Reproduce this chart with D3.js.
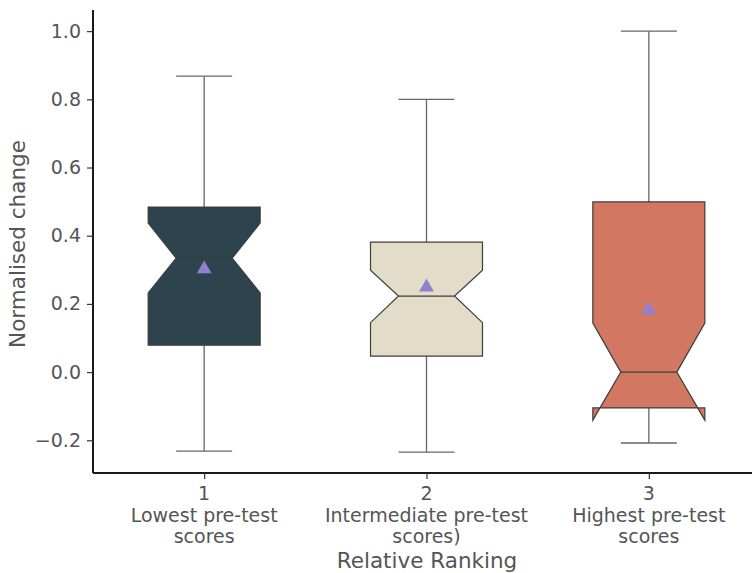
<!DOCTYPE html>
<html>
<head>
<meta charset="utf-8">
<script src="https://cdn.jsdelivr.net/npm/d3@7"></script>
<style>
  body { margin: 0; background: #fff; }
  text { font-family: "DejaVu Sans", sans-serif; }
</style>
</head>
<body>
<div id="chart"></div>
<script>
// data
var groups = [1, 2, 3];
var groupLabels = [["1", "Lowest pre-test", "scores"],
                   ["2", "Intermediate pre-test", "scores)"],
                   ["3", "Highest pre-test", "scores"]];
var q1 = [0.079, 0.047, -0.105];
var medians = [0.334, 0.223, 0.0];
var q3 = [0.484, 0.381, 0.499];
var notchLo = [0.232, 0.145, -0.141];
var notchHi = [0.437, 0.299, 0.144];
var whiskerLo = [-0.232, -0.235, -0.208];
var whiskerHi = [0.868, 0.80, 1.0];
var means = [0.305, 0.252, 0.185];
var yTicks = [-0.2, 0.0, 0.2, 0.4, 0.6, 0.8, 1.0];
var boxColors = ["#2d444e", "#e2dcc8", "#d27862"];

var width = 752, height = 573;
var svg = d3.select("#chart").append("svg")
    .attr("width", width).attr("height", height);

var x = d3.scaleLinear().domain([0.5, 3.5]).range([93, 760]);
var y = d3.scaleLinear().domain([-0.296, 1.062]).range([473, 10]);

var textColor = "#555555";
var edge = "#3d3d3d";
var boxHalf = 56;

// boxes
var boxes = groups.map(function(g, i) {
  return { g: g, q1: q1[i], med: medians[i], q3: q3[i], nlo: notchLo[i], nhi: notchHi[i],
           wlo: whiskerLo[i], whi: whiskerHi[i], mean: means[i], color: boxColors[i] };
});

var bg = svg.append("g");

// whiskers
boxes.forEach(function(d) {
  var cx = x(d.g);
  bg.append("line").attr("x1", cx).attr("x2", cx).attr("y1", y(d.q3)).attr("y2", y(d.whi))
    .style("stroke", "#666").style("stroke-width", 1.3);
  bg.append("line").attr("x1", cx).attr("x2", cx).attr("y1", y(d.q1)).attr("y2", y(d.wlo))
    .style("stroke", "#666").style("stroke-width", 1.3);
  [d.whi, d.wlo].forEach(function(v) {
    bg.append("line").attr("x1", cx - boxHalf / 2).attr("x2", cx + boxHalf / 2)
      .attr("y1", y(v)).attr("y2", y(v))
      .style("stroke", "#666").style("stroke-width", 1.3);
  });
});

// notched box polygons
boxes.forEach(function(d) {
  var cx = x(d.g);
  var pts = [
    [cx - boxHalf, y(d.q1)], [cx - boxHalf, y(d.nlo)], [cx - boxHalf / 2, y(d.med)],
    [cx - boxHalf, y(d.nhi)], [cx - boxHalf, y(d.q3)], [cx + boxHalf, y(d.q3)],
    [cx + boxHalf, y(d.nhi)], [cx + boxHalf / 2, y(d.med)], [cx + boxHalf, y(d.nlo)],
    [cx + boxHalf, y(d.q1)]
  ];
  bg.append("path")
    .attr("d", d3.line()(pts) + "Z")
    .style("fill", d.color)
    .style("stroke", edge)
    .style("stroke-width", 1.2)
    .style("stroke-linejoin", "miter");
  bg.append("line")
    .attr("x1", cx - boxHalf / 2).attr("x2", cx + boxHalf / 2)
    .attr("y1", y(d.med)).attr("y2", y(d.med))
    .style("stroke", edge).style("stroke-width", 1.3);
  // mean marker
  bg.append("path")
    .attr("d", d3.symbol().type(d3.symbolTriangle).size(95)())
    .attr("transform", "translate(" + cx + "," + (y(d.mean) + 1) + ")")
    .style("fill", "#9180d0");
});

// y axis
var yAxis = svg.append("g").attr("transform", "translate(93,0)")
  .call(d3.axisLeft(y).tickValues(yTicks).tickFormat(function(v) {
    return d3.format(".1f")(v).replace("-", "\u2212");
  }).tickSize(6).tickPadding(6));
yAxis.select(".domain").attr("d", "M0," + y(1.062) + "V" + y(-0.296))
  .style("stroke", "#1a1a1a").style("stroke-width", 2);
yAxis.selectAll(".tick line").style("stroke", "#333").style("stroke-width", 1.2);
yAxis.selectAll(".tick text").style("fill", textColor).style("font-size", "19px")
  .style("font-family", "DejaVu Sans");

// x axis
var xAxis = svg.append("g").attr("transform", "translate(0,473)")
  .call(d3.axisBottom(x).tickValues(groups).tickFormat("").tickSize(6));
xAxis.select(".domain").attr("d", "M93,0H760").style("stroke", "#1a1a1a").style("stroke-width", 2);
xAxis.selectAll(".tick line").style("stroke", "#333").style("stroke-width", 1.2);
groups.forEach(function(g, i) {
  var t = svg.append("text").attr("x", x(g)).attr("y", 500)
    .attr("text-anchor", "middle").style("fill", textColor).style("font-size", "19px");
  groupLabels[i].forEach(function(s, j) {
    t.append("tspan").attr("x", x(g)).attr("y", 500 + j * 21.5).text(s);
  });
});

// axis titles
svg.append("text").attr("transform", "translate(25,244) rotate(-90)")
  .attr("text-anchor", "middle").style("fill", textColor).style("font-size", "21.5px")
  .text("Normalised change");
svg.append("text").attr("x", 427).attr("y", 568)
  .attr("text-anchor", "middle").style("fill", textColor).style("font-size", "21.5px")
  .text("Relative Ranking");
</script>
</body>
</html>
